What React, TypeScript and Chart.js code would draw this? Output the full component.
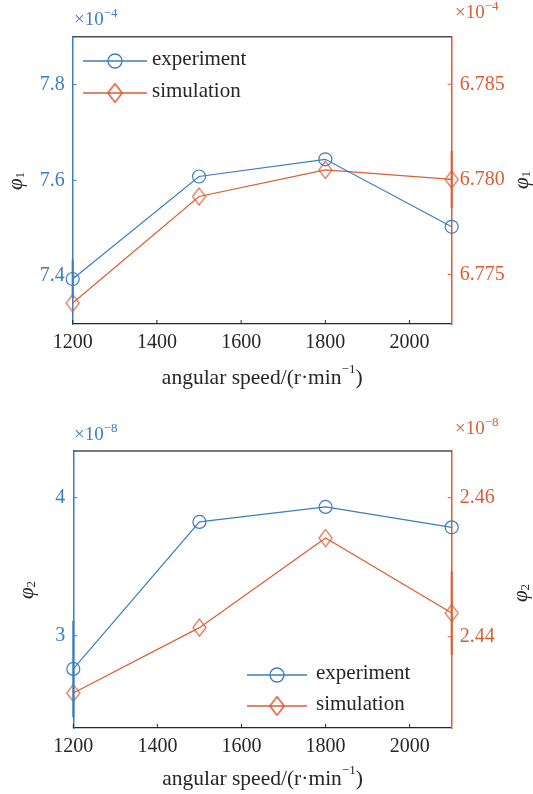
import React, { useEffect, useRef } from 'react';
import { Chart, registerables } from 'chart.js';
Chart.register(...registerables);

// ---------- data ----------
const speeds = [1200, 1500, 1800, 2100];
const xTicks = [1200, 1400, 1600, 1800, 2000];
const seriesLabels = ['experiment', 'simulation'];

const phi1Experiment = [7.394, 7.608, 7.644, 7.503];
const phi1ExperimentErr = [0.04, 0, 0, 0];
const phi1Simulation = [6.7735, 6.7791, 6.7805, 6.78];
const phi1SimulationErr = [0, 0, 0, 0.0015];
const phi1LeftTicks = [7.4, 7.6, 7.8];
const phi1RightTicks = [6.775, 6.78, 6.785];

const phi2Experiment = [2.759, 3.824, 3.933, 3.785];
const phi2ExperimentErr = [0.35, 0, 0, 0];
const phi2Simulation = [2.4319, 2.4413, 2.4542, 2.4434];
const phi2SimulationErr = [0, 0, 0, 0.006];
const phi2LeftTicks = [3, 4];
const phi2RightTicks = [2.44, 2.46];

// ---------- style ----------
const BLUE = '#3b7dc0';
const ORANGE = '#d95e36';
const TEXT = '#262626';
const FONT = 'Liberation Serif';
const W = 533;
const H = 397;

function makeDiamond(color: string, lw: number) {
  const c = document.createElement('canvas');
  c.width = 15;
  c.height = 19;
  const g = c.getContext('2d')!;
  g.strokeStyle = color;
  g.lineWidth = lw;
  g.beginPath();
  g.moveTo(7.5, 1);
  g.lineTo(14, 9.5);
  g.lineTo(7.5, 18);
  g.lineTo(1, 9.5);
  g.closePath();
  g.stroke();
  return c;
}

type Part = { t: string; size: number; dy: number; italic?: boolean };

function richWidth(ctx: CanvasRenderingContext2D, parts: Part[]) {
  let w = 0;
  for (const p of parts) {
    ctx.font = `${p.italic ? 'italic ' : ''}${p.size}px "${FONT}"`;
    w += ctx.measureText(p.t).width;
  }
  return w;
}

function drawRich(ctx: CanvasRenderingContext2D, parts: Part[], x: number, y: number) {
  let cx = x;
  ctx.textBaseline = 'middle';
  ctx.textAlign = 'left';
  for (const p of parts) {
    ctx.font = `${p.italic ? 'italic ' : ''}${p.size}px "${FONT}"`;
    ctx.fillText(p.t, cx, y + p.dy);
    cx += ctx.measureText(p.t).width;
  }
}

type Deco = {
  exp: string;
  sub: string;
  multLeft: [number, number];
  multRight: [number, number];
  titleLeft: [number, number];
  titleRight: [number, number];
  xTitleY: number;
  legendX: [number, number, number];
  legendY: [number, number];
  errs: number[][];
};

const decoPlugin = {
  id: 'deco',
  afterDatasetsDraw(chart: any) {
    const d: Deco = chart.options.plugins.deco;
    const ctx: CanvasRenderingContext2D = chart.ctx;
    const a = chart.chartArea;
    const xs = chart.scales.x;
    const yl = chart.scales.y;
    const yr = chart.scales.y1;
    ctx.save();
    // top frame
    ctx.strokeStyle = '#4d4d4d';
    ctx.lineWidth = 1.5;
    ctx.beginPath();
    ctx.moveTo(a.left, a.top);
    ctx.lineTo(a.right, a.top);
    ctx.stroke();
    // inner ticks
    ctx.lineWidth = 1;
    ctx.strokeStyle = TEXT;
    for (const t of xs.ticks) {
      const px = xs.getPixelForValue(t.value);
      ctx.beginPath();
      ctx.moveTo(px, a.bottom);
      ctx.lineTo(px, a.bottom - 4);
      ctx.stroke();
    }
    ctx.strokeStyle = BLUE;
    for (const t of yl.ticks) {
      const py = yl.getPixelForValue(t.value);
      ctx.beginPath();
      ctx.moveTo(a.left, py);
      ctx.lineTo(a.left + 4, py);
      ctx.stroke();
    }
    ctx.strokeStyle = ORANGE;
    for (const t of yr.ticks) {
      const py = yr.getPixelForValue(t.value);
      ctx.beginPath();
      ctx.moveTo(a.right, py);
      ctx.lineTo(a.right - 4, py);
      ctx.stroke();
    }
    // error bars
    chart.data.datasets.forEach((ds: any, i: number) => {
      const sc = chart.scales[ds.yAxisID];
      const errs = d.errs[i];
      ctx.strokeStyle = ds.borderColor;
      ctx.lineWidth = 2.1;
      ds.data.forEach((pt: any, j: number) => {
        const e = errs[j];
        if (!e) return;
        const px = xs.getPixelForValue(pt.x);
        ctx.beginPath();
        ctx.moveTo(px, sc.getPixelForValue(pt.y - e));
        ctx.lineTo(px, sc.getPixelForValue(pt.y + e));
        ctx.stroke();
      });
    });
    ctx.restore();
  },
  afterDraw(chart: any) {
    const d: Deco = chart.options.plugins.deco;
    const ctx: CanvasRenderingContext2D = chart.ctx;
    const a = chart.chartArea;
    ctx.save();
    // multipliers
    const mult: Part[] = [
      { t: '×10', size: 19, dy: 0 },
      { t: '−' + d.exp, size: 13, dy: -6 },
    ];
    ctx.fillStyle = BLUE;
    drawRich(ctx, mult, d.multLeft[0], d.multLeft[1]);
    ctx.fillStyle = ORANGE;
    drawRich(ctx, mult, d.multRight[0], d.multRight[1]);
    // y titles
    const phi: Part[] = [
      { t: 'φ', size: 21, dy: 0, italic: true },
      { t: d.sub, size: 13, dy: 5 },
    ];
    const pw = richWidth(ctx, phi);
    ctx.fillStyle = TEXT;
    for (const pos of [d.titleLeft, d.titleRight]) {
      ctx.save();
      ctx.translate(pos[0], pos[1]);
      ctx.rotate(-Math.PI / 2);
      drawRich(ctx, phi, -pw / 2, 0);
      ctx.restore();
    }
    // x title
    const xt: Part[] = [
      { t: 'angular speed/(r·min', size: 21.5, dy: 0 },
      { t: '−1', size: 13, dy: -8 },
      { t: ')', size: 21.5, dy: 0 },
    ];
    const xw = richWidth(ctx, xt);
    drawRich(ctx, xt, (a.left + a.right) / 2 - xw / 2, d.xTitleY);
    // legend
    chart.data.datasets.forEach((ds: any, i: number) => {
      const y = d.legendY[i];
      ctx.strokeStyle = ds.borderColor;
      ctx.lineWidth = 1.3;
      ctx.beginPath();
      ctx.moveTo(d.legendX[0], y);
      ctx.lineTo(d.legendX[1], y);
      ctx.stroke();
      const mx = (d.legendX[0] + d.legendX[1]) / 2;
      if (ds.pointStyle === 'circle') {
        ctx.beginPath();
        ctx.arc(mx, y, 7, 0, Math.PI * 2);
        ctx.stroke();
      } else {
        const img = makeDiamond(ds.borderColor, 1.4);
        ctx.save();
        ctx.translate(mx, y);
        ctx.scale(1.1, 1.1);
        ctx.drawImage(img, -img.width / 2, -img.height / 2);
        ctx.restore();
      }
      ctx.fillStyle = TEXT;
      ctx.font = `21px "${FONT}"`;
      ctx.textAlign = 'left';
      ctx.textBaseline = 'middle';
      ctx.fillText(ds.label, d.legendX[2], y - 2);
    });
    ctx.restore();
  },
};

function buildConfig(
  exp: number[],
  sim: number[],
  leftTicks: number[],
  rightTicks: number[],
  leftRange: [number, number],
  rightRange: [number, number],
  leftDec: number,
  rightDec: number,
  plotTop: number,
  plotBottom: number,
  plotLeft: number,
  plotRight: number,
  deco: Deco
): any {
  const diamond = makeDiamond(ORANGE, 1.2);
  const tickFont = { family: FONT, size: 20 };
  return {
    type: 'line',
    data: {
      datasets: [
        {
          label: seriesLabels[0],
          data: exp.map((v, i) => ({ x: speeds[i], y: v })),
          yAxisID: 'y',
          borderColor: BLUE,
          borderWidth: 1.2,
          backgroundColor: 'transparent',
          pointStyle: 'circle',
          pointRadius: 6.5,
          pointBorderWidth: 1.2,
          pointBorderColor: BLUE,
          pointBackgroundColor: 'transparent',
          tension: 0,
        },
        {
          label: seriesLabels[1],
          data: sim.map((v, i) => ({ x: speeds[i], y: v })),
          yAxisID: 'y1',
          borderColor: ORANGE,
          borderWidth: 1.2,
          backgroundColor: 'transparent',
          pointStyle: diamond,
          pointRadius: 8,
          pointBorderColor: ORANGE,
          pointBackgroundColor: 'transparent',
          tension: 0,
        },
      ],
    },
    options: {
      animation: false,
      responsive: false,
      devicePixelRatio: 1,
      clip: false,
      layout: { padding: { top: plotTop, left: 0, right: 0, bottom: 0 } },
      plugins: {
        legend: { display: false },
        tooltip: { enabled: false },
        deco,
      },
      scales: {
        x: {
          type: 'linear',
          min: 1200,
          max: 2100,
          afterBuildTicks: (s: any) => {
            s.ticks = xTicks.map((v) => ({ value: v }));
          },
          afterFit: (s: any) => {
            s.height = H - plotBottom;
          },
          grid: { display: false, drawTicks: false },
          border: { display: true, color: TEXT, width: 1.3 },
          ticks: {
            color: TEXT,
            font: tickFont,
            padding: 7,
            maxRotation: 0,
            autoSkip: false,
            callback: (v: any) => String(v),
          },
        },
        y: {
          type: 'linear',
          position: 'left',
          min: leftRange[0],
          max: leftRange[1],
          afterBuildTicks: (s: any) => {
            s.ticks = leftTicks.map((v) => ({ value: v }));
          },
          afterFit: (s: any) => {
            s.width = plotLeft;
          },
          grid: { display: false, drawTicks: false },
          border: { display: true, color: BLUE, width: 1.5 },
          ticks: {
            color: BLUE,
            font: tickFont,
            padding: 8,
            callback: (v: any) => Number(v).toFixed(leftDec),
          },
        },
        y1: {
          type: 'linear',
          position: 'right',
          min: rightRange[0],
          max: rightRange[1],
          afterBuildTicks: (s: any) => {
            s.ticks = rightTicks.map((v) => ({ value: v }));
          },
          afterFit: (s: any) => {
            s.width = W - plotRight;
          },
          grid: { display: false, drawTicks: false },
          border: { display: true, color: ORANGE, width: 1.5 },
          ticks: {
            color: ORANGE,
            font: tickFont,
            padding: 8,
            callback: (v: any) => Number(v).toFixed(rightDec),
          },
        },
      },
    },
    plugins: [decoPlugin],
  };
}

function ChartCanvas({ make }: { make: () => any }) {
  const ref = useRef<HTMLCanvasElement | null>(null);
  useEffect(() => {
    if (!ref.current) return;
    const chart = new Chart(ref.current, make());
    return () => chart.destroy();
  }, []);
  return <canvas ref={ref} width={W} height={H} style={{ display: 'block', width: W, height: H }} />;
}

export default function App() {
  return (
    <div style={{ position: 'absolute', left: 0, top: 0, width: W, height: 2 * H, background: '#fff' }}>
      <ChartCanvas
        make={() =>
          buildConfig(
            phi1Experiment,
            phi1Simulation,
            phi1LeftTicks,
            phi1RightTicks,
            [7.3, 7.9],
            [6.7724, 6.7875],
            1,
            3,
            36.7,
            324,
            72.7,
            451.7,
            {
              exp: '4',
              sub: '1',
              multLeft: [74, 20],
              multRight: [455, 13],
              titleLeft: [16, 181],
              titleRight: [522, 180],
              xTitleY: 378,
              legendX: [83, 147, 152],
              legendY: [61, 93],
              errs: [phi1ExperimentErr, phi1SimulationErr],
            }
          )
        }
      />
      <ChartCanvas
        make={() =>
          buildConfig(
            phi2Experiment,
            phi2Simulation,
            phi2LeftTicks,
            phi2RightTicks,
            [2.331, 4.338],
            [2.42686, 2.46672],
            0,
            2,
            54,
            331,
            73.3,
            451.7,
            {
              exp: '8',
              sub: '2',
              multLeft: [74, 38],
              multRight: [455, 32],
              titleLeft: [27, 193],
              titleRight: [521, 196],
              xTitleY: 382,
              legendX: [247, 307, 316],
              legendY: [278, 309],
              errs: [phi2ExperimentErr, phi2SimulationErr],
            }
          )
        }
      />
    </div>
  );
}
